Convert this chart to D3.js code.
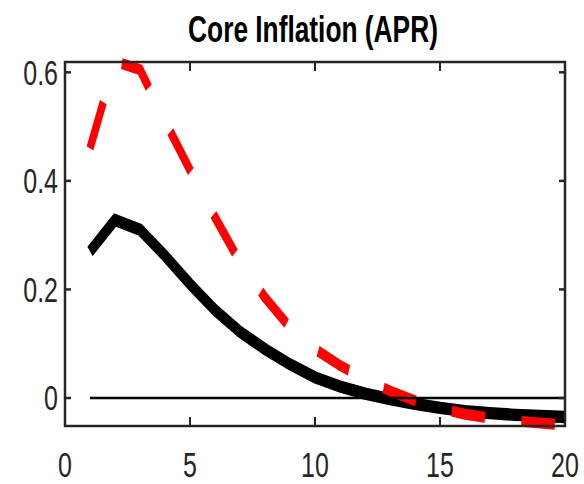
<!DOCTYPE html>
<html>
<head>
<meta charset="utf-8">
<script src="https://cdn.jsdelivr.net/npm/d3@7"></script>
<style>
  html, body { margin: 0; padding: 0; background: #fff; }
  svg { display: block; }
</style>
</head>
<body>
<script>
// ---- data ----
const title = "Core Inflation (APR)";
const horizons = [1,2,3,4,5,6,7,8,9,10,11,12,13,14,15,16,17,18,19,20];
const solidSeries = [0.27, 0.328, 0.31, 0.262, 0.21, 0.162, 0.122, 0.09, 0.062, 0.038, 0.021, 0.008, -0.002, -0.011, -0.018, -0.024, -0.028, -0.031, -0.033, -0.035];
const dashedSeries = [0.46, 0.62, 0.605, 0.51, 0.42, 0.333, 0.25, 0.185, 0.13, 0.09, 0.06, 0.035, 0.013, -0.005, -0.019, -0.03, -0.037, -0.042, -0.046, -0.05];
const xTicks = [0, 5, 10, 15, 20];
const yTicks = [0, 0.2, 0.4, 0.6];
const yTickLabels = ["0", "0.2", "0.4", "0.6"];
const xDomain = [0, 20];
const yDomain = [-0.0516, 0.619];

// ---- layout ----
const W = 584, H = 484;
const L = 65, R = 565, T = 62, B = 426;
const K = 1.5;      // vertical stretch of the original figure (lines)
const KT = 1.42;    // vertical stretch for tick labels
const axisColor = "#262626";

const svg = d3.select("body").append("svg").attr("width", W).attr("height", H);

const x = d3.scaleLinear().domain(xDomain).range([L, R]);
const y = d3.scaleLinear().domain(yDomain).range([B, T]);

// data lines drawn in a vertically stretched group (mimics the stretched original)
const g = svg.append("g").attr("transform", `scale(1,${K})`);
const line = d3.line().x((d, i) => x(horizons[i])).y(d => y(d) / K);

g.append("path")
  .datum(solidSeries)
  .attr("d", line)
  .attr("fill", "none")
  .attr("stroke", "#000")
  .attr("stroke-width", 8.2)
  .attr("stroke-linejoin", "miter")
  .attr("stroke-linecap", "butt");

g.append("path")
  .datum(dashedSeries)
  .attr("d", line)
  .attr("fill", "none")
  .attr("stroke", "#ff0000")
  .attr("stroke-width", 7.3)
  .attr("stroke-dasharray", "33.5,36.5")
  .attr("stroke-linejoin", "miter")
  .attr("stroke-linecap", "butt");

// zero line
svg.append("line")
  .attr("x1", x(horizons[0])).attr("x2", x(horizons[horizons.length - 1]))
  .attr("y1", y(0)).attr("y2", y(0))
  .attr("stroke", "#000").attr("stroke-width", 2.5);

// axes box
const ax = svg.append("g");
ax.append("rect")
  .attr("x", L).attr("y", T).attr("width", R - L).attr("height", B - T)
  .attr("fill", "none").attr("stroke", axisColor).attr("stroke-width", 2.5);

// x ticks (bottom & top, inward)
xTicks.forEach(t => {
  const px = x(t);
  ax.append("line").attr("x1", px).attr("x2", px).attr("y1", B).attr("y2", B - 9)
    .attr("stroke", axisColor).attr("stroke-width", 2);
  ax.append("line").attr("x1", px).attr("x2", px).attr("y1", T).attr("y2", T + 9)
    .attr("stroke", axisColor).attr("stroke-width", 2);
  ax.append("text")
    .attr("transform", `translate(${px},477) scale(1,${KT})`)
    .attr("text-anchor", "middle")
    .attr("font-family", "'Liberation Sans', Arial, sans-serif")
    .attr("font-size", 25)
    .attr("fill", axisColor)
    .text(String(t));
});

// y ticks (left & right, inward)
yTicks.forEach((t, i) => {
  const py = y(t);
  ax.append("line").attr("x1", L).attr("x2", L + 6).attr("y1", py).attr("y2", py)
    .attr("stroke", axisColor).attr("stroke-width", 2.5);
  ax.append("line").attr("x1", R).attr("x2", R - 6).attr("y1", py).attr("y2", py)
    .attr("stroke", axisColor).attr("stroke-width", 2.5);
  ax.append("text")
    .attr("transform", `translate(58,${py + 12.5}) scale(1,${KT})`)
    .attr("text-anchor", "end")
    .attr("font-family", "'Liberation Sans', Arial, sans-serif")
    .attr("font-size", 25)
    .attr("fill", axisColor)
    .text(yTickLabels[i]);
});

// title
svg.append("text")
  .attr("transform", `translate(${(L + R) / 2 - 2},42) scale(1,1.38)`)
  .attr("text-anchor", "middle")
  .attr("font-family", "'Liberation Sans', Arial, sans-serif")
  .attr("font-weight", "bold")
  .attr("font-size", 26.3)
  .attr("fill", "#000")
  .text(title);
</script>
</body>
</html>
